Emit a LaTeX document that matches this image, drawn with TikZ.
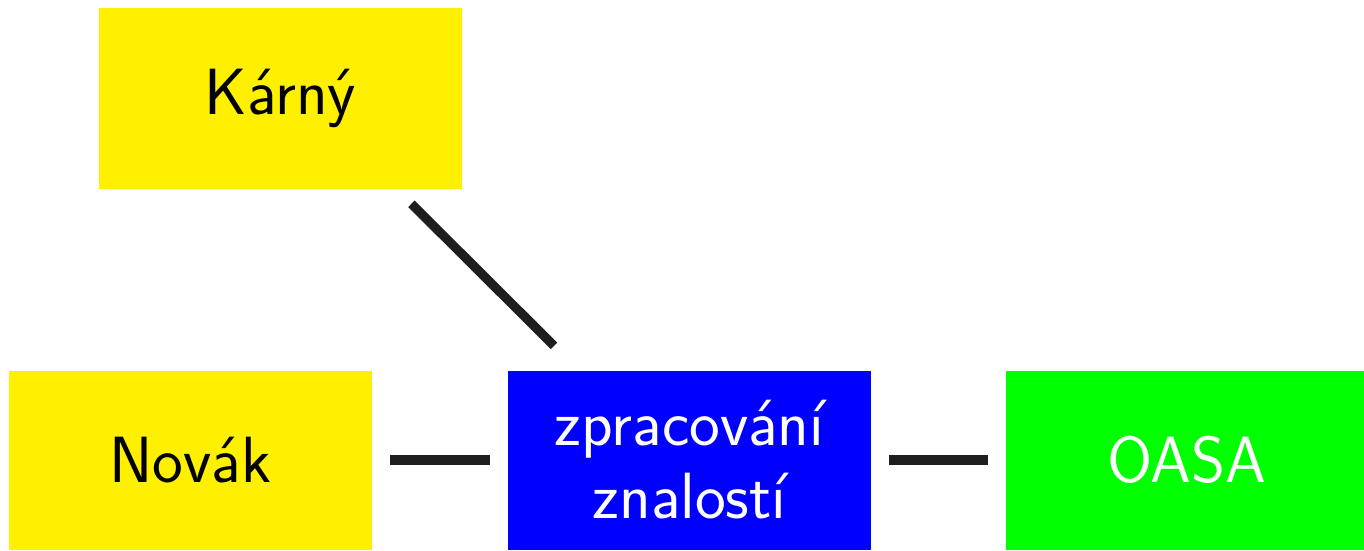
\documentclass[tikz,border=0pt]{standalone}
\definecolor{boxyellow}{RGB}{255,240,0}
\definecolor{boxblue}{RGB}{0,0,255}
\definecolor{boxgreen}{RGB}{0,255,0}
\definecolor{linkgray}{RGB}{30,30,30}
\begin{document}
\begin{tikzpicture}[
    box/.style={minimum width=3.63cm, minimum height=1.79cm, inner sep=0pt,
        align=center, font=\sffamily\fontsize{18.6}{20.8}\selectfont},
    link/.style={draw=linkgray, line width=2.6pt, shorten >=0.17cm, shorten <=0.17cm}
]
            \useasboundingbox (0,0) rectangle (13.64,-5.50);
            \node[box, fill=boxyellow, minimum height=1.81cm] (karny) at (2.805,-0.985) {Kárný};
            \node[box, fill=boxyellow] (novak) at (1.905,-4.60) {Novák};
            \node[box, fill=boxblue, text=white] (zpr) at (6.895,-4.60) {zpracování\\znalostí};
            \node[box, fill=boxgreen, text=white] (oasa) at (11.87,-4.60) {OASA};

            \draw[link, shorten <=0.2cm, shorten >=0.34cm] (karny.-38.5) to (zpr.141.5);
            \draw[link] (novak) to (zpr); \draw[link] (zpr) to (oasa);
        \end{tikzpicture}
\end{document}
